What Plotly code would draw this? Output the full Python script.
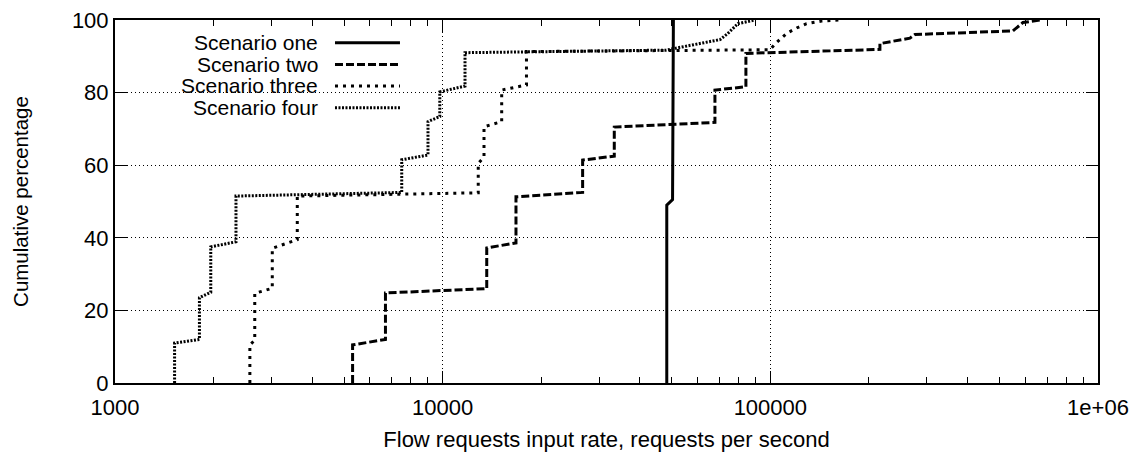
import plotly.graph_objects as go

# ---- data ----
s1_x = [48300, 48300, 50300, 50600]
s1_y = [0, 49, 50.5, 100]

s2_x = [5310, 5310, 6690, 6690, 13630, 13630, 16740, 16740, 26740, 26740, 33400, 33400,
        67750, 67750, 84230, 84230, 216000, 216000, 266700, 276300, 550000, 590000, 665000]
s2_y = [0, 10.5, 12, 24.8, 26, 37.2, 38.6, 51.3, 52.5, 61.4, 62.5, 70.5,
        71.8, 80.7, 81.6, 90.8, 91.9, 93.5, 95, 96, 97, 99.3, 100]

s3_x = [2580, 2580, 2670, 2670, 3020, 3020, 3600, 3600, 12840, 12840, 13370, 13370,
        15140, 15140, 18020, 18020, 99700, 104500, 112100, 120300, 129000, 143400, 163000]
s3_y = [0, 10.5, 11.8, 24.7, 26.1, 37.1, 39.5, 51.5, 52.4, 60.5, 62.3, 70.6,
        72, 80.7, 82.1, 91.3, 91.8, 93.8, 96.3, 97.8, 99, 99.7, 100]

s4_x = [1520, 1520, 1810, 1810, 1960, 1960, 2340, 2340, 7500, 7500, 9020, 9020,
        9800, 9800, 11700, 11700, 48000, 53000, 61000, 70200, 74000, 79600, 90000]
s4_y = [0, 11, 12, 23.5, 25, 37.5, 38.9, 51.5, 52.5, 61.5, 62.8, 72,
        73.4, 80.2, 81.8, 91, 91.7, 92.5, 93.6, 94.6, 96.2, 99, 100]

names = ["Scenario one", "Scenario two", "Scenario three", "Scenario four"]
x_tickvals = [1000, 10000, 100000, 1000000]
x_ticktext = ["1000", "10000", "100000", "1e+06"]
x_minor_vals = [m * d for d in (1000, 10000, 100000) for m in range(2, 10)]
y_tickvals = [0, 20, 40, 60, 80, 100]

dashes = ["solid", "8px,3px", "3px,5px", "2px,1.5px"]
series = [(s1_x, s1_y), (s2_x, s2_y), (s3_x, s3_y), (s4_x, s4_y)]

FONT = "Liberation Sans, Arial, sans-serif"

fig = go.Figure()
for (xs, ys), nm, d in zip(series, names, dashes):
    fig.add_trace(go.Scatter(x=xs, y=ys, mode="lines", name=nm,
                             line=dict(color="black", width=3, dash=d),
                             showlegend=False))

# manual legend: text right-aligned, line sample on the right
row_y = [0.9372, 0.8777, 0.8182, 0.7584]
for nm, d, yy in zip(names, dashes, row_y):
    fig.add_annotation(x=0.2085, y=yy, xref="paper", yref="paper", text=nm,
                       showarrow=False, xanchor="right", yanchor="middle",
                       font=dict(size=21, family=FONT, color="black"))
    fig.add_shape(type="line", xref="paper", yref="paper",
                  x0=0.2238, x1=0.2899, y0=yy, y1=yy,
                  line=dict(color="black", width=3, dash=d))

fig.update_layout(
    width=1142, height=453,
    margin=dict(l=115, r=44, t=20, b=70, autoexpand=False),
    paper_bgcolor="white", plot_bgcolor="white",
    font=dict(family=FONT, size=22, color="black"),
)
fig.update_xaxes(
    type="log", range=[3, 6], automargin=False,
    tickvals=x_tickvals, ticktext=x_ticktext,
    ticks="inside", ticklen=12, tickcolor="black", tickwidth=1,
    ticklabelstandoff=4,
    showline=True, linecolor="black", linewidth=2, mirror="ticks",
    showgrid=True, gridcolor="black", gridwidth=1, griddash="1px,3px",
    minor=dict(tickmode="array", tickvals=x_minor_vals, ticks="inside",
               ticklen=6, tickcolor="black", tickwidth=1, showgrid=False),
    zeroline=False,
    title=dict(text="Flow requests input rate, requests per second",
               font=dict(size=22), standoff=12),
)
fig.update_yaxes(
    range=[0, 100], tickvals=y_tickvals, automargin=False,
    ticks="inside", ticklen=12, tickcolor="black", tickwidth=1,
    showline=True, linecolor="black", linewidth=2, mirror="ticks",
    showgrid=True, gridcolor="black", gridwidth=1, griddash="1px,3px",
    zeroline=False,
    title=dict(text="Cumulative percentage", font=dict(size=20.5), standoff=38),
)

fig.write_html("out.html")
